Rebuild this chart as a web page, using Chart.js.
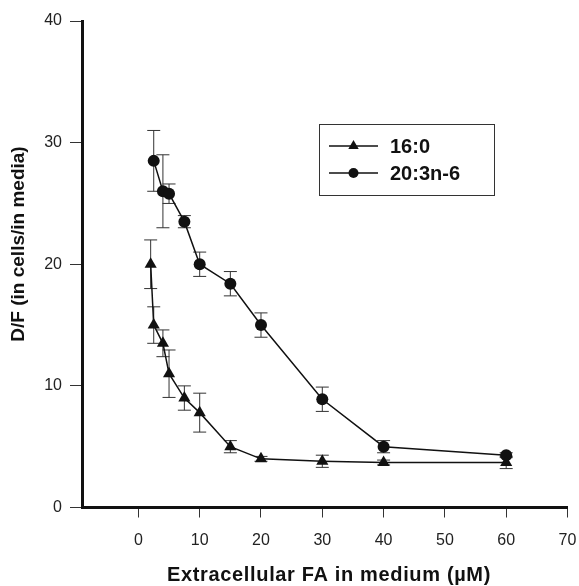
<!doctype html>
<html>
<head>
<meta charset="utf-8">
<title>D/F vs extracellular FA</title>
<script src="https://cdn.jsdelivr.net/npm/chart.js@4/dist/chart.umd.min.js"></script>
<style>
  body { margin: 0; background: #fff; }
</style>
</head>
<body>
<canvas id="dfChart" width="579" height="586"></canvas>
<script>
// 16:0 (palmitate)
const conc160 = [2, 2.5, 4, 5, 7.5, 10, 15, 20, 30, 40, 60];
const df160   = [20, 15, 13.5, 11, 9, 7.8, 5, 4, 3.8, 3.7, 3.7];
const err160  = [2, 1.5, 1.1, 1.95, 1, 1.6, 0.5, 0.2, 0.5, 0.2, 0.5];

// 20:3n-6
const conc203 = [2.5, 4, 5, 7.5, 10, 15, 20, 30, 40, 60];
const df203   = [28.5, 26, 25.8, 23.5, 20, 18.4, 15, 8.9, 5, 4.3];
const err203  = [2.5, 3, 0.8, 0.5, 1, 1, 1, 1, 0.5, 0.2];

const xTicks = [0, 10, 20, 30, 40, 50, 60, 70];
const yTicks = [0, 10, 20, 30, 40];

const seriesNames = ['16:0', '20:3n-6'];
const xTitle = 'Extracellular FA in medium (\u00b5M)';
const yTitle = 'D/F (in cells/in media)';

const INK = '#111';
const FONT = '"Liberation Sans", Arial, sans-serif';

function toPoints(xs, ys) {
  return xs.map((x, i) => ({ x: x, y: ys[i] }));
}

// vertical error bars with caps, drawn under the markers
const errorBars = {
  id: 'errorBars',
  beforeDatasetsDraw(chart) {
    const ctx = chart.ctx;
    const xs = chart.scales.x, ys = chart.scales.y;
    ctx.save();
    ctx.strokeStyle = '#333';
    ctx.lineWidth = 1;
    chart.data.datasets.forEach(ds => {
      ds.data.forEach((p, i) => {
        const e = ds.errors[i];
        const px = xs.getPixelForValue(p.x);
        const top = ys.getPixelForValue(p.y + e);
        const bot = ys.getPixelForValue(p.y - e);
        ctx.beginPath();
        ctx.moveTo(px, top); ctx.lineTo(px, bot);
        ctx.moveTo(px - 6.5, top); ctx.lineTo(px + 6.5, top);
        ctx.moveTo(px - 6.5, bot); ctx.lineTo(px + 6.5, bot);
        ctx.stroke();
      });
    });
    ctx.restore();
  }
};

function marker(ctx, style, x, y, r) {
  ctx.beginPath();
  if (style === 'triangle') {
    ctx.moveTo(x, y - r);
    ctx.lineTo(x + r * 0.866, y + r * 0.5);
    ctx.lineTo(x - r * 0.866, y + r * 0.5);
    ctx.closePath();
  } else {
    ctx.arc(x, y, r, 0, Math.PI * 2);
  }
  ctx.fill();
}

// boxed legend inside the plot plus the two axis titles
const decorations = {
  id: 'decorations',
  afterDraw(chart) {
    const ctx = chart.ctx;
    ctx.save();

    ctx.strokeStyle = '#333';
    ctx.lineWidth = 1;
    ctx.strokeRect(319.5, 124.5, 175, 71);

    ctx.fillStyle = INK;
    ctx.strokeStyle = INK;
    ctx.font = 'bold 20px ' + FONT;
    ctx.textBaseline = 'middle';
    ctx.textAlign = 'left';
    chart.data.datasets.forEach((ds, i) => {
      const ly = 146 + i * 27;
      ctx.lineWidth = 1.5;
      ctx.beginPath();
      ctx.moveTo(329, ly); ctx.lineTo(378, ly);
      ctx.stroke();
      marker(ctx, ds.pointStyle, 353.5, ly, ds.pointStyle === 'triangle' ? 6 : 5);
      ctx.fillText(ds.label, 390, ly + 1);
    });

    ctx.textAlign = 'center';
    ctx.font = 'bold 20px ' + FONT;
    ctx.letterSpacing = '0.65px';
    ctx.fillText(xTitle, 329, 575);
    ctx.letterSpacing = '0px';

    ctx.translate(19, 244);
    ctx.rotate(-Math.PI / 2);
    ctx.font = 'bold 19px ' + FONT;
    ctx.fillText(yTitle, 0, 0);
    ctx.restore();
  }
};

const ctx = document.getElementById('dfChart').getContext('2d');
new Chart(ctx, {
  type: 'line',
  data: {
    datasets: [
      {
        label: seriesNames[0],
        data: toPoints(conc160, df160),
        errors: err160,
        borderColor: INK,
        backgroundColor: INK,
        borderWidth: 1.5,
        pointStyle: 'triangle',
        pointRadius: 7,
        pointBorderWidth: 0,
        tension: 0
      },
      {
        label: seriesNames[1],
        data: toPoints(conc203, df203),
        errors: err203,
        borderColor: INK,
        backgroundColor: INK,
        borderWidth: 1.5,
        pointStyle: 'circle',
        pointRadius: 6,
        pointBorderWidth: 0,
        tension: 0
      }
    ]
  },
  options: {
    responsive: false,
    animation: false,
    layout: { padding: { top: 21, right: 11.5, bottom: 0, left: 0 } },
    plugins: {
      legend: { display: false },
      tooltip: { enabled: false }
    },
    scales: {
      x: {
        type: 'linear',
        min: -9.2,
        max: 70,
        afterBuildTicks: scale => { scale.ticks = xTicks.map(v => ({ value: v })); },
        afterFit: scale => {
          scale.height = 78.5;
          scale.paddingLeft = 0;
          scale.paddingRight = 0;
        },
        border: { display: true, color: INK, width: 3 },
        grid: { drawOnChartArea: false, drawTicks: true, tickLength: 10, color: '#333', lineWidth: 1 },
        ticks: { color: '#222', font: { family: FONT, size: 16 }, padding: 13, maxRotation: 0 }
      },
      y: {
        type: 'linear',
        min: 0,
        max: 40,
        afterBuildTicks: scale => { scale.ticks = yTicks.map(v => ({ value: v })); },
        afterFit: scale => {
          scale.width = 82;
          scale.paddingTop = 0;
          scale.paddingBottom = 0;
        },
        border: { display: true, color: INK, width: 3 },
        grid: { drawOnChartArea: false, drawTicks: true, tickLength: 12, color: '#333', lineWidth: 1 },
        ticks: { color: '#222', font: { family: FONT, size: 16 }, padding: 8 }
      }
    }
  },
  plugins: [errorBars, decorations]
});
</script>
</body>
</html>
